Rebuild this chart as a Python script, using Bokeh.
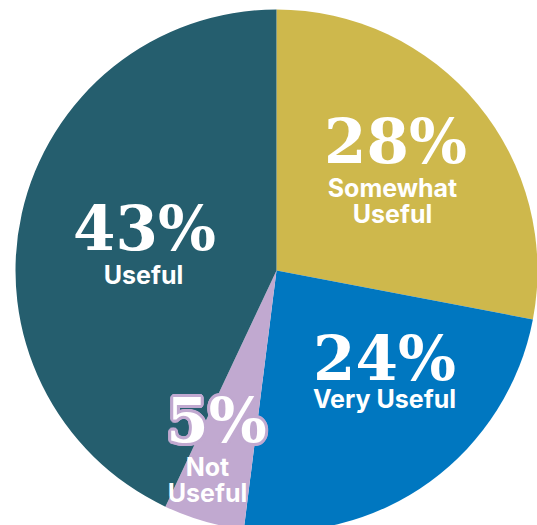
import math
from bokeh.plotting import figure
from bokeh.models import Range1d, ColumnDataSource
from bokeh.embed import file_html
from bokeh.resources import INLINE
from bokeh.core.properties import value

categories = ["Somewhat Useful", "Very Useful", "Not Useful", "Useful"]
values = [28, 24, 5, 43]
colors = ["#CEB84C", "#0077C0", "#C1A9D0", "#255E6E"]
pct_labels = ["28%", "24%", "5%", "43%"]
name_lines = [["Somewhat", "Useful"], ["Very Useful"], ["Not", "Useful"], ["Useful"]]

# layout (pixel-like coordinates, y negated)
W, H = 537, 525
CX, CY, R = 276, 270, 261
pct_pos = [(395, 163), (384, 380), (216, 442), (144, 250)]
name_pos = [(392, 196), (384, 407), (207, 475), (143, 283)]
line_gap = 26
PCT_SIZE = 61
NAME_SIZE = 25
BASE_FIX = 0.36

p = figure(width=W, height=H, output_backend="svg", toolbar_location=None,
           x_range=Range1d(0, W), y_range=Range1d(-H, 0), min_border=0)
p.axis.visible = False
p.grid.visible = False
p.outline_line_color = None
p.background_fill_color = "white"
p.border_fill_color = "white"

total = sum(values)
starts, ends = [], []
acc = 0
for v in values:
    a0 = math.pi / 2 - 2 * math.pi * acc / total
    acc += v
    a1 = math.pi / 2 - 2 * math.pi * acc / total
    starts.append(a0)
    ends.append(a1)

src = ColumnDataSource(dict(start=starts, end=ends, color=colors, cat=categories))
p.wedge(x=CX, y=-CY, radius=R, start_angle="start", end_angle="end", direction="clock",
        fill_color="color", line_color=None, source=src)

# percentage labels
for i, lab in enumerate(pct_labels):
    x, y = pct_pos[i]
    yb = -(y - BASE_FIX * PCT_SIZE)
    if lab == "5%":
        offs = []
        for k in range(16):
            a = 2 * math.pi * k / 16
            offs.append((3 * math.cos(a), 3 * math.sin(a)))
        p.text(x=[x + dx for dx, dy in offs], y=[yb + dy for dx, dy in offs], text=[lab] * len(offs),
               text_font=value("DejaVu Serif"), text_font_style="bold",
               text_font_size=f"{PCT_SIZE}px", text_color=colors[i], text_align="center",
               text_baseline="alphabetic")
    p.text(x=[x], y=[yb], text=[lab], text_font=value("DejaVu Serif"), text_font_style="bold",
           text_font_size=f"{PCT_SIZE}px", text_color="white", text_align="center",
           text_baseline="alphabetic")

for i, lines in enumerate(name_lines):
    x, y = name_pos[i]
    for j, ln in enumerate(lines):
        p.text(x=[x], y=[-(y + j * line_gap - BASE_FIX * NAME_SIZE)], text=[ln],
               text_font=value("Inter"), text_font_style="bold",
               text_font_size=f"{NAME_SIZE}px", text_color="white",
               text_align="center", text_baseline="alphabetic")

open("out.html", "w").write(file_html(p, INLINE))
